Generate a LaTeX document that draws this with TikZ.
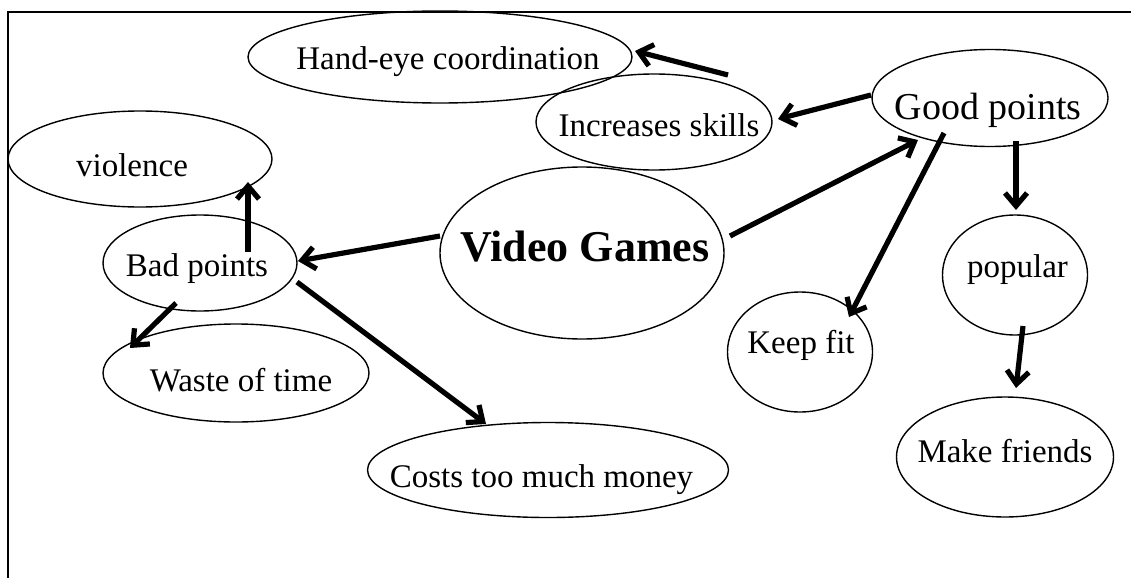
\documentclass[tikz,border=0pt]{standalone}
\usepackage{fontspec}
\setmainfont{Liberation Serif}
\usetikzlibrary{shapes.geometric,arrows.meta}
\begin{document}
\begin{tikzpicture}[x=1pt,y=-1pt,
  ell/.style={draw, ellipse, line width=1.4pt, inner sep=0pt, outer sep=0pt},
  every label/.style={font=\fontsize{33}{40}\selectfont, text height=22pt, text depth=0pt, inner sep=0pt},
  arr/.style={line width=5.2pt, -{Straight Barb[length=13pt,width=22pt]}},
  frame/.style={line width=1.5pt}]
\useasboundingbox (0,0) rectangle (1131,578);
\coordinate (ftl) at (8,12);
\coordinate (ftr) at (1131,12);
\coordinate (fbl) at (8,578);
\draw[frame] (fbl) -- (ftl) -- (ftr);

\node[ell, minimum width=384pt, minimum height=92pt,
  label={[xshift=8pt,yshift=-1.5pt]center:Hand-eye coordination}] (he) at (440,57) {};
\node[ell, minimum width=236pt, minimum height=96pt,
  label={[xshift=5pt,yshift=-3.5pt]center:Increases skills}] (inc) at (654,122) {};
\node[ell, minimum width=236pt, minimum height=97pt,
  label={[xshift=-2pt,yshift=-9pt,font=\fontsize{38}{46}\selectfont,text height=25pt]center:Good points}] (good) at (990,98) {};
\node[ell, minimum width=264pt, minimum height=96pt,
  label={[xshift=-8pt,yshift=-6pt]center:violence}] (viol) at (140,159) {};
\node[ell, minimum width=194pt, minimum height=96pt,
  label={[xshift=-3pt,yshift=-2pt]center:Bad points}] (bad) at (200,263) {};
\node[ell, minimum width=266pt, minimum height=98pt,
  label={[xshift=5pt,yshift=-7pt]center:Waste of time}] (waste) at (236,373) {};
\node[ell, minimum width=284pt, minimum height=172pt,
  label={[xshift=3pt,yshift=6pt,font=\fontsize{44}{52}\selectfont\bfseries,text height=29pt]center:Video Games}] (vg) at (582,253) {};
\node[ell, minimum width=145pt, minimum height=120pt,
  label={[xshift=1pt,yshift=10pt]center:Keep fit}] (keep) at (800,352) {};
\node[ell, minimum width=145pt, minimum height=120pt,
  label={[xshift=2.5pt,yshift=8.5pt]center:popular}] (pop) at (1015,275) {};
\node[ell, minimum width=217pt, minimum height=120pt,
  label={[xshift=0pt,yshift=6pt]center:Make friends}] (make) at (1005,457) {};
\node[ell, minimum width=361pt, minimum height=95pt,
  label={[xshift=-6.5pt,yshift=-6pt]center:Costs too much money}] (cost) at (548,470) {};

\coordinate (skillsup) at ([shift={(74,-47)}]inc.center);

\draw[arr] ([shift={(-142,-17)}]vg.center) -- ([shift={(98,-2)}]bad.center);
\draw[arr] ([shift={(48,-11)}]bad.center) -- ([shift={(108,23)}]viol.center);
\draw[arr] ([shift={(-24,40)}]bad.center) -- ([shift={(-106,-25)}]waste.center);
\draw[arr] ([shift={(97,19)}]bad.center) -- ([shift={(-62,-46)}]cost.center);
\draw[arr] ([shift={(148,-17)}]vg.center) -- ([shift={(-72,42)}]good.center);
\draw[arr] ([shift={(-119,-3)}]good.center) -- ([shift={(124,-3)}]inc.center);
\draw[arr] (skillsup) -- ([shift={(195,-6)}]he.center);
\draw[arr] ([shift={(-46,35)}]good.center) -- ([shift={(49,-35)}]keep.center);
\draw[arr] ([shift={(26,43)}]good.center) -- ([shift={(1,-65)}]pop.center);
\draw[arr] ([shift={(8,51)}]pop.center) -- ([shift={(11,-69)}]make.center);
\end{tikzpicture}
\end{document}
